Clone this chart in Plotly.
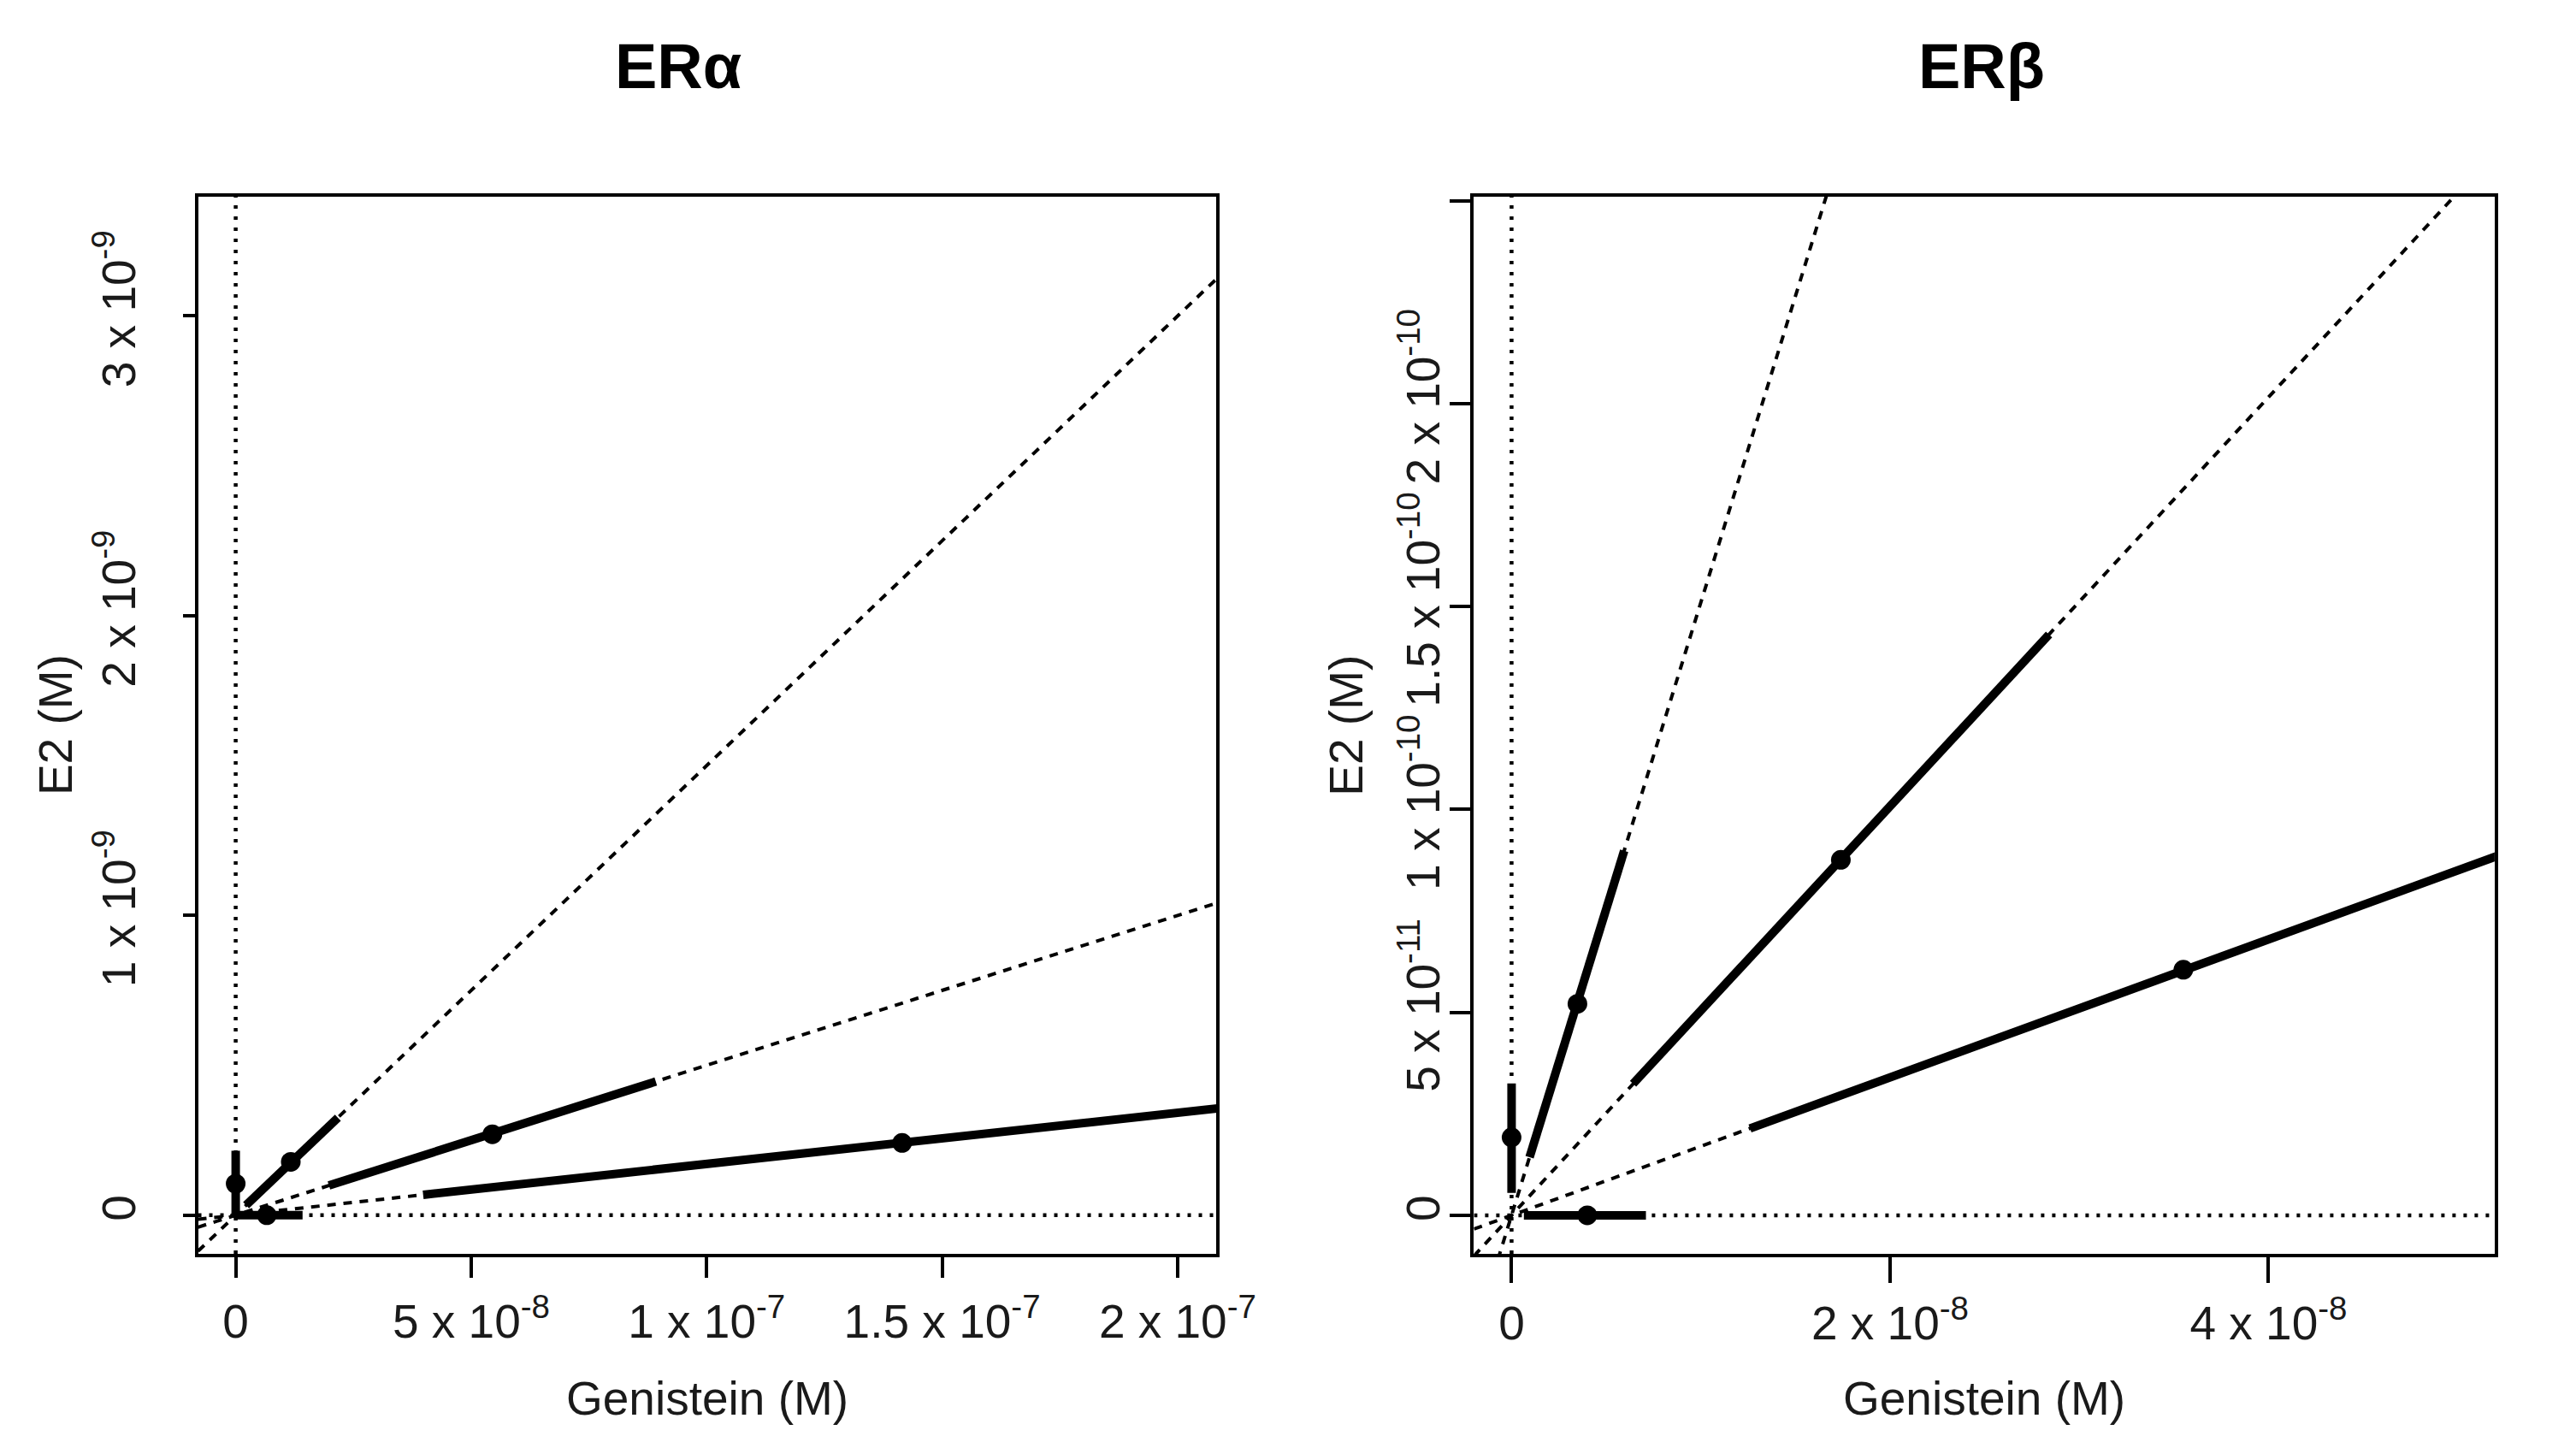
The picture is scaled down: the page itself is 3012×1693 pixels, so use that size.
import plotly.graph_objects as go

# ---------------- data ----------------
panel_titles = ["ERα", "ERβ"]
x_label = "Genistein (M)"
y_label = "E2 (M)"

# ER alpha: ray slopes (E2 / Genistein), point estimates and CI segment ends
era_ratio = [1.50e-2, 5.00e-3, 1.71e-3]
era_gen = [0.0, 0.66e-8, 1.17e-8, 5.45e-8, 1.415e-7]
era_e2 = [0.105e-9, 0.0, 0.178e-9, 0.270e-9, 0.241e-9]
era_gen_lo = [0.0, 0.0, 0.22e-8, 1.98e-8, 3.98e-8]
era_gen_hi = [0.0, 1.42e-8, 2.17e-8, 8.92e-8, 2.30e-7]
era_e2_lo = [0.0, 0.0, 0.033e-9, 0.099e-9, 0.068e-9]
era_e2_hi = [0.215e-9, 0.0, 0.325e-9, 0.446e-9, 0.393e-9]

# ER beta
erb_ratio = [1.51e-2, 5.04e-3, 1.70e-3]
erb_gen = [0.0, 0.40e-8, 0.348e-8, 1.74e-8, 3.55e-8]
erb_e2 = [0.192e-10, 0.0, 0.521e-10, 0.876e-10, 0.605e-10]
erb_gen_lo = [0.0, 0.065e-8, 0.095e-8, 0.642e-8, 1.26e-8]
erb_gen_hi = [0.0, 0.71e-8, 0.595e-8, 2.84e-8, 5.60e-8]
erb_e2_lo = [0.055e-10, 0.0, 0.143e-10, 0.324e-10, 0.214e-10]
erb_e2_hi = [0.325e-10, 0.0, 0.898e-10, 1.431e-10, 0.952e-10]

# axis ranges and ticks
era_xrange = [-0.80e-8, 2.082e-7]
era_yrange = [-0.129e-9, 3.398e-9]
erb_xrange = [-0.199e-8, 5.195e-8]
erb_yrange = [-0.095e-10, 2.510e-10]

era_xtick_vals = [0, 5e-8, 1e-7, 1.5e-7, 2e-7]
era_xtick_text = ["0", "5 x 10<sup>-8</sup>", "1 x 10<sup>-7</sup>",
                  "1.5 x 10<sup>-7</sup>", "2 x 10<sup>-7</sup>"]
era_ytick_vals = [0, 1e-9, 2e-9, 3e-9]
era_ytick_text = ["0", "1 x 10<sup>-9</sup>", "2 x 10<sup>-9</sup>", "3 x 10<sup>-9</sup>"]
erb_xtick_vals = [0, 2e-8, 4e-8]
erb_xtick_text = ["0", "2 x 10<sup>-8</sup>", "4 x 10<sup>-8</sup>"]
erb_ytick_vals = [0, 5e-11, 1e-10, 1.5e-10, 2e-10, 2.5e-10]
erb_ytick_text = ["0", "5 x 10<sup>-11</sup>", "1 x 10<sup>-10</sup>",
                  "1.5 x 10<sup>-10</sup>", "2 x 10<sup>-10</sup>", ""]

# ---------------- figure ----------------
W, H = 3012, 1693
FONT = "Liberation Sans, Arial, sans-serif"
TXT = "#1a1a1a"
fig = go.Figure()

DOT = "4px,9px"
DASH = "10px,9px"


def add_panel(xa, ya, ratio, gx, gy, gxlo, gxhi, gylo, gyhi, xr, yr):
    xref = "x" if xa == 1 else "x%d" % xa
    yref = "y" if ya == 1 else "y%d" % ya
    # dotted zero lines
    fig.add_trace(go.Scatter(x=[0, 0], y=yr, mode="lines", xaxis=xref, yaxis=yref,
                             line=dict(color="black", width=4.5, dash=DOT),
                             hoverinfo="skip", showlegend=False))
    fig.add_trace(go.Scatter(x=xr, y=[0, 0], mode="lines", xaxis=xref, yaxis=yref,
                             line=dict(color="black", width=4.5, dash=DOT),
                             hoverinfo="skip", showlegend=False))
    # dashed rays through origin
    for r in ratio:
        fig.add_trace(go.Scatter(x=xr, y=[r * xr[0], r * xr[1]], mode="lines",
                                 xaxis=xref, yaxis=yref,
                                 line=dict(color="black", width=4, dash=DASH),
                                 hoverinfo="skip", showlegend=False))
    # thick CI segments
    sx, sy = [], []
    for a, b, c, d in zip(gxlo, gxhi, gylo, gyhi):
        sx += [a, b, None]
        sy += [c, d, None]
    fig.add_trace(go.Scatter(x=sx, y=sy, mode="lines", xaxis=xref, yaxis=yref,
                             line=dict(color="black", width=10),
                             hoverinfo="skip", showlegend=False))
    # points
    fig.add_trace(go.Scatter(x=gx, y=gy, mode="markers", xaxis=xref, yaxis=yref,
                             marker=dict(color="black", size=23),
                             cliponaxis=True, showlegend=False))


add_panel(1, 1, era_ratio, era_gen, era_e2, era_gen_lo, era_gen_hi,
          era_e2_lo, era_e2_hi, era_xrange, era_yrange)
add_panel(2, 2, erb_ratio, erb_gen, erb_e2, erb_gen_lo, erb_gen_hi,
          erb_e2_lo, erb_e2_hi, erb_xrange, erb_yrange)

ydom = [1 - 1458 / H, 1 - 222 / H]
xdom1 = [227 / W, 1436 / W]
xdom2 = [1742 / W, 2954 / W]

axis_common = dict(showgrid=False, zeroline=False, showline=True, mirror=True,
                   linecolor="black", linewidth=4, ticks="outside",
                   tickwidth=3.5, tickcolor="black",
                   tickfont=dict(family=FONT, size=55, color=TXT))

fig.update_layout(
    width=W, height=H, autosize=False,
    margin=dict(l=0, r=0, t=0, b=0),
    paper_bgcolor="white", plot_bgcolor="white",
    showlegend=False,
    xaxis=dict(domain=xdom1, range=era_xrange, anchor="y", tickmode="array",
               tickvals=era_xtick_vals, ticktext=era_xtick_text,
               ticklen=24, ticklabelstandoff=4, **axis_common),
    yaxis=dict(domain=ydom, range=era_yrange, anchor="x", tickmode="array",
               tickvals=era_ytick_vals, ticktext=era_ytick_text, tickangle=-90,
               ticklen=14, ticklabelstandoff=34, **axis_common),
    xaxis2=dict(domain=xdom2, range=erb_xrange, anchor="y2", tickmode="array",
                tickvals=erb_xtick_vals, ticktext=erb_xtick_text,
                ticklen=30, ticklabelstandoff=0, **axis_common),
    yaxis2=dict(domain=ydom, range=erb_yrange, anchor="x2", tickmode="array",
                tickvals=erb_ytick_vals, ticktext=erb_ytick_text, tickangle=-90,
                ticklen=24, ticklabelstandoff=-10, **axis_common),
)

annots = []
for tx, title in zip([797 / W, 2345 / W], panel_titles):
    annots.append(dict(x=tx, y=1 - 70 / H, xref="paper", yref="paper",
                       text="<b>%s</b>" % title, showarrow=False,
                       font=dict(family=FONT, size=74, color="black"),
                       xanchor="center", yanchor="middle"))
for cx in [(xdom1[0] + xdom1[1]) / 2, (xdom2[0] + xdom2[1]) / 2]:
    annots.append(dict(x=cx, y=1 - 1627 / H, xref="paper", yref="paper",
                       text=x_label, showarrow=False,
                       font=dict(family=FONT, size=55, color=TXT),
                       xanchor="center", yanchor="middle"))
for lx in [58 / W, 1590 / W]:
    annots.append(dict(x=lx, y=(ydom[0] + ydom[1]) / 2, xref="paper", yref="paper",
                       text=y_label, showarrow=False, textangle=-90,
                       font=dict(family=FONT, size=55, color=TXT),
                       xanchor="center", yanchor="middle"))
fig.update_layout(annotations=annots)

fig.write_html("out.html")
